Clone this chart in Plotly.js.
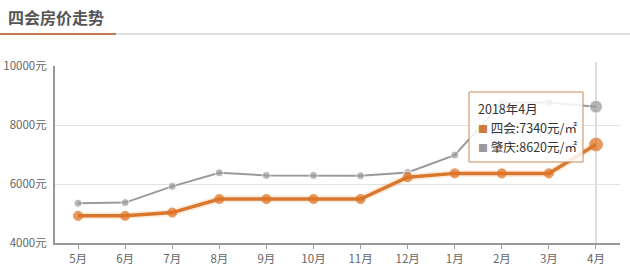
<!DOCTYPE html>
<html>
<head>
<meta charset="utf-8">
<script src="https://cdn.plot.ly/plotly-3.0.1.min.js"></script>
<style>
html,body{margin:0;padding:0;background:#fff;}
#chart{width:630px;height:269px;}
</style>
</head>
<body>
<div id="chart"></div>
<script>
var months = ["5月","6月","7月","8月","9月","10月","11月","12月","1月","2月","3月","4月"];
var siHui = [4920, 4920, 5030, 5490, 5490, 5490, 5490, 6230, 6360, 6360, 6360, 7340];
var zhaoQing = [5350, 5370, 5920, 6380, 6290, 6290, 6280, 6390, 6980, 8750, 8760, 8620];
var yTickVals = [4000, 6000, 8000, 10000];
var yTickText = ["4000元", "6000元", "8000元", "10000元"];
var chartTitle = "四会房价走势";
var seriesNames = ["四会", "肇庆"];
var hoverLabel = "2018年4月";
var hoverIndex = 11;

var orange = "#d9772f";
var gray = "#9a9a9a";
var idx = months.map(function(_, i){ return i; });
function sizes(base, big){ return months.map(function(_, i){ return i === hoverIndex ? big : base; }); }

var traces = [
  { x: idx, y: zhaoQing, type: "scatter", mode: "lines+markers",
    line: {color: gray, width: 2}, marker: {color: gray, size: sizes(8, 13)}, hoverinfo: "skip" },
  { x: idx, y: siHui, type: "scatter", mode: "lines",
    line: {color: "rgba(245,160,80,0.2)", width: 7}, hoverinfo: "skip" },
  { x: idx, y: siHui, type: "scatter", mode: "markers",
    marker: {color: "rgba(245,160,80,0.22)", size: sizes(12, 13)}, hoverinfo: "skip" },
  { x: idx, y: siHui, type: "scatter", mode: "lines+markers",
    line: {color: orange, width: 3.5}, marker: {color: "#e07424", size: sizes(9, 13)}, hoverinfo: "skip" }
];

var W = 630, H = 269, L = 55, R = 10, T = 66, B = 26;
var pw = W - L - R, ph = H - T - B;
function px(v){ return (v - L) / pw; }
function py(v){ return (H - B - v) / ph; }

var tipFont = {size: 12.5, color: "#333", family: "'Noto Sans CJK SC', sans-serif"};
function tipLine(text, yPix){
  return {xref: "paper", yref: "paper", x: px(476), y: py(yPix), xanchor: "left", yanchor: "middle",
          text: text, align: "left", showarrow: false, font: tipFont};
}

var layout = {
  width: W, height: H,
  margin: {l: L, r: R, t: T, b: B},
  paper_bgcolor: "#fff", plot_bgcolor: "#fff",
  showlegend: false,
  font: {family: "'Noto Sans CJK SC', 'Noto Sans', sans-serif", color: "#666", size: 11},
  title: {text: "<b>" + chartTitle + "</b>", x: 8/W, xanchor: "left", xref: "container",
          y: 1 - 18/H, yanchor: "middle", yref: "container",
          font: {size: 16, color: "#555", family: "'Noto Sans CJK SC', sans-serif"}},
  xaxis: {
    range: [-0.49, 11.51], tickvals: idx, ticktext: months,
    showgrid: false, zeroline: false, showline: true, linecolor: "#999", linewidth: 2,
    ticks: "outside", ticklen: 4, tickcolor: "#999", tickfont: {size: 11.5, color: "#666"},
    fixedrange: true
  },
  yaxis: {
    range: [4000, 10000], tickvals: yTickVals, ticktext: yTickText,
    showgrid: true, gridcolor: "#e2e2e2", gridwidth: 1, zeroline: false,
    showline: true, linecolor: "#999", linewidth: 2, ticks: "", ticklabelstandoff: 4,
    tickfont: {size: 11.5, color: "#666"}, fixedrange: true
  },
  shapes: [
    {type: "line", xref: "paper", yref: "paper", x0: px(0), x1: px(116), y0: py(34), y1: py(34),
     line: {color: "#c47a50", width: 2}},
    {type: "line", xref: "paper", yref: "paper", x0: px(116), x1: px(630), y0: py(34), y1: py(34),
     line: {color: "#e0e0e0", width: 2}},
    {type: "line", xref: "x", yref: "paper", x0: hoverIndex, x1: hoverIndex, y0: 0, y1: py(62),
     line: {color: "#bbb", width: 1}, layer: "below"},
    {type: "rect", xref: "paper", yref: "paper", x0: px(469), x1: px(583), y0: py(162), y1: py(92),
     fillcolor: "rgba(255,255,255,0.85)", line: {color: "#c98a58", width: 1}, layer: "above"}
  ],
  annotations: [
    tipLine(hoverLabel, 108),
    tipLine("<span style='color:#cf7a3a;font-size:10px'>■</span> " + seriesNames[0] + ":" + siHui[hoverIndex] + "元/㎡", 127),
    tipLine("<span style='color:#9a9a9a;font-size:10px'>■</span> " + seriesNames[1] + ":" + zhaoQing[hoverIndex] + "元/㎡", 146)
  ]
};

Plotly.newPlot("chart", traces, layout, {displayModeBar: false, staticPlot: true});
</script>
</body>
</html>
